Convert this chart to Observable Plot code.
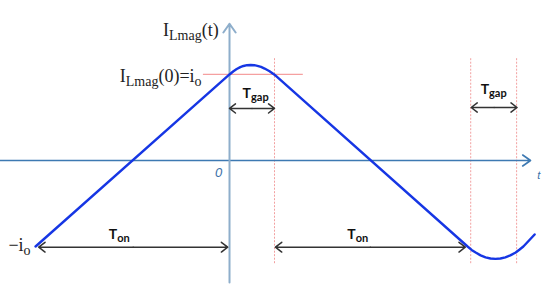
<!DOCTYPE html>
<html>
<head>
<meta charset="utf-8">
<script src="https://cdn.jsdelivr.net/npm/d3@7"></script>
<script src="https://cdn.jsdelivr.net/npm/@observablehq/plot@0.6"></script>
<style>
  html, body { margin: 0; padding: 0; background: white; }
  #chart svg { display: block; }
</style>
</head>
<body>
<div id="chart"></div>
<script>
// Magnetizing current waveform (t in units of Tgap, i in units of io)
const curveT = [-4.31, 0, 0.08, 0.16, 0.24, 0.31, 0.39, 0.47, 0.55, 0.62, 0.70, 0.78, 0.89, 1.0, 5.29, 5.38, 5.47, 5.58, 5.69, 5.80, 5.91, 6.02, 6.13, 6.24, 6.36, 6.44, 6.53, 6.78];
const curveI = [-1.0, 1.0, 1.035, 1.063, 1.085, 1.099, 1.108, 1.11, 1.108, 1.10, 1.088, 1.069, 1.038, 0.998, -1.0, -1.04, -1.07, -1.103, -1.126, -1.14, -1.144, -1.14, -1.126, -1.103, -1.07, -1.038, -1.0, -0.86];

// Dotted gap markers
const gapLineT = [1.0, 5.36, 6.38];

// Dimension arrows
const tgapStart = [0.0, 5.37];
const tgapEnd = [1.0, 6.39];
const tgapLevel = [0.605, 0.616];
const tgapLabelT = [0.58, 5.87];
const tgapLabelI = [0.78, 0.82];

const tonStart = [-4.24, 1.02];
const tonEnd = [-0.04, 5.24];
const tonLevel = [-1.008, -1.008];
const tonLabelT = [-2.45, 2.85];
const tonLabelI = [-0.866, -0.866];

// Serif math labels (text, anchor t, anchor i)
const mathLabels = ["I_{Lmag}(t)", "I_{Lmag}(0)=i_{o}", "−i_{o}"];
const mathLabelT = [-0.24, -0.62, -4.42];
const mathLabelI = [1.51, 0.977, -0.99];

const curve = curveT.map((t, k) => ({t, i: curveI[k]}));
const gapLines = gapLineT.map(t => ({t}));
const tgap = tgapStart.map((s, k) => ({s, e: tgapEnd[k], m: (s + tgapEnd[k]) / 2, y: tgapLevel[k], lt: tgapLabelT[k], li: tgapLabelI[k], label: "T_{gap}"}));
const ton = tonStart.map((s, k) => ({s, e: tonEnd[k], m: (s + tonEnd[k]) / 2, y: tonLevel[k], lt: tonLabelT[k], li: tonLabelI[k], label: "T_{on}"}));
const dims = tgap.concat(ton);
const math = mathLabels.map((text, k) => ({text, t: mathLabelT[k], i: mathLabelI[k]}));

const xAxisLine = [{x1: -5.09, x2: 6.69, y: 0}];
const yAxisLine = [{x: 0, y1: -1.42, y2: 1.59}];
const ioLine = [{x1: -0.58, x2: 1.64, y: 1}];

const plot = Plot.plot({
  width: 550,
  height: 289,
  margin: 0,
  style: {background: "white"},
  x: {domain: [-5.089, 7.133], axis: null},
  y: {domain: [-1.5, 1.86], axis: null},
  marks: [
    Plot.ruleX(gapLines, {x: "t", y1: -1.2, y2: 1.2, stroke: "#f2a0a0", strokeWidth: 1, strokeDasharray: "2,1.5"}),
    Plot.ruleY(ioLine, {x1: "x1", x2: "x2", y: "y", stroke: "#f5a0a0", strokeWidth: 1.2}),
    Plot.arrow(xAxisLine, {x1: "x1", x2: "x2", y1: "y", y2: "y", stroke: "#3d79b2", strokeWidth: 1.6, headLength: 9, headAngle: 70}),
    Plot.arrow(yAxisLine, {x1: "x", x2: "x", y1: "y1", y2: "y2", stroke: "#8eaecb", strokeWidth: 2, headLength: 8, headAngle: 70}),
    Plot.line(curve, {x: "t", y: "i", stroke: "#1636e4", strokeWidth: 2.4, curve: "linear", strokeLinejoin: "round"}),
    Plot.arrow(dims, {x1: "m", x2: "s", y1: "y", y2: "y", stroke: "#333", strokeWidth: 1.5, headLength: 8, headAngle: 75}),
    Plot.arrow(dims, {x1: "m", x2: "e", y1: "y", y2: "y", stroke: "#333", strokeWidth: 1.5, headLength: 8, headAngle: 75}),
    Plot.text(dims, {x: "lt", y: "li", text: "label", fontFamily: "Lato, 'Open Sans', sans-serif", fontWeight: "bold", fontSize: 14, fill: "#111", className: "sublbl"}),
    Plot.text(math, {x: "t", y: "i", text: "text", textAnchor: "end", fontFamily: "'Liberation Serif', 'DejaVu Serif', serif", fontSize: 18, fill: "#222", className: "mathlbl"}),
    Plot.text([{t: -0.24, i: -0.14, s: "0"}], {x: "t", y: "i", text: "s", fontFamily: "'Liberation Sans', sans-serif", fontStyle: "italic", fontSize: 13, fill: "#3a6fa8"}),
    Plot.text([{t: 6.87, i: -0.17, s: "t"}], {x: "t", y: "i", text: "s", fontFamily: "'Liberation Sans', sans-serif", fontStyle: "italic", fontSize: 11, fill: "#3a6fa8"})
  ]
});

// Convert "_{...}" into subscript tspans
function subscriptify(svg, selector, subSize, shift) {
  d3.select(svg).selectAll(selector + " text").each(function() {
    const s = this.textContent;
    if (!s.includes("_{")) return;
    const parts = s.split(/(_\{[^}]*\})/).filter(p => p.length);
    this.textContent = "";
    let down = false;
    for (const p of parts) {
      const ts = document.createElementNS("http://www.w3.org/2000/svg", "tspan");
      if (p.startsWith("_{")) {
        ts.textContent = p.slice(2, -1);
        ts.setAttribute("font-size", subSize);
        if (!down) { ts.setAttribute("dy", shift); down = true; }
      } else {
        ts.textContent = p;
        if (down) { ts.setAttribute("dy", -shift); down = false; }
      }
      this.appendChild(ts);
    }
  });
}
subscriptify(plot, ".mathlbl", 14, 4);
subscriptify(plot, ".sublbl", 11, 3);

document.getElementById("chart").appendChild(plot);
</script>
</body>
</html>
